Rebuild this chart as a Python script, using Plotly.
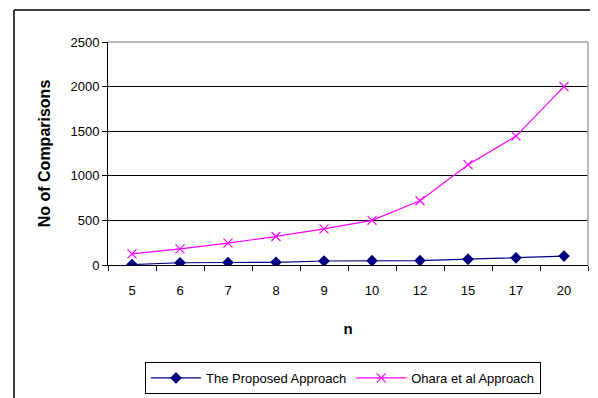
import plotly.graph_objects as go

categories = ["5", "6", "7", "8", "9", "10", "12", "15", "17", "20"]
proposed = [5, 25, 28, 30, 45, 48, 50, 65, 80, 100]
ohara = [125, 180, 245, 320, 405, 500, 720, 1125, 1445, 2000]
y_ticks = [0, 500, 1000, 1500, 2000, 2500]

W, H = 598, 398
OFF = 8  # page body margin offset
L, T = 108 - OFF, 42 - OFF
pw, ph = 480, 223
R = W - L - pw
B = H - T - ph

def px_x(x):
    return (x - OFF - L) / pw

def px_y(y):
    return (T + ph - (y - OFF)) / ph

fig = go.Figure()
fig.add_trace(go.Scatter(
    x=categories, y=proposed, name="The Proposed Approach",
    mode="lines+markers",
    line=dict(color="#000080", width=1.2),
    marker=dict(symbol="diamond", size=9, color="#000080"),
))
fig.add_trace(go.Scatter(
    x=categories, y=ohara, name="Ohara et al Approach",
    mode="lines+markers",
    line=dict(color="#FF00FF", width=1.2),
    marker=dict(symbol="x-thin", size=9, color="#FF00FF",
                line=dict(color="#FF00FF", width=1.2)),
))

font = "Liberation Sans, Arial, sans-serif"

fig.update_layout(
    width=W, height=H,
    margin=dict(l=L, r=R, t=T, b=B, autoexpand=False),
    paper_bgcolor="white",
    plot_bgcolor="white",
    font=dict(family=font, size=13, color="black"),
    showlegend=True,
    legend=dict(
        orientation="h",
        x=px_x(343), y=px_y(378), xanchor="center", yanchor="middle",
        bordercolor="black", borderwidth=1, bgcolor="white",
        font=dict(size=13, family=font),
        itemwidth=50,
        tracegroupgap=0,
    ),
    xaxis=dict(
        type="category",
        showgrid=False,
        showline=True, linecolor="black", linewidth=1,
        ticks="outside", ticklen=5, tickcolor="black", tickson="boundaries",
        ticklabelstandoff=13,
        tickfont=dict(size=13),
        title=dict(text="<b>n</b>", font=dict(size=15), standoff=26),
        range=[-0.5, 9.5],
    ),
    yaxis=dict(
        range=[0, 2500],
        tickvals=y_ticks,
        showgrid=True, gridcolor="black", gridwidth=1,
        showline=True, linecolor="black", linewidth=1,
        ticks="outside", ticklen=5, tickcolor="black",
        tickfont=dict(size=13),
        title=dict(text="<b>No of Comparisons</b>", font=dict(size=16), standoff=15),
        zeroline=False,
    ),
    shapes=[
        dict(type="line", xref="paper", yref="paper", x0=0, x1=1, y0=1, y1=1,
             line=dict(color="#a0a0a0", width=1.5), layer="above"),
        dict(type="line", xref="paper", yref="paper", x0=1, x1=1, y0=0, y1=1,
             line=dict(color="#a0a0a0", width=1.5), layer="above"),
        dict(type="line", xref="paper", yref="paper",
             x0=px_x(14), x1=px_x(W + 20), y0=px_y(10), y1=px_y(10),
             line=dict(color="black", width=1.5)),
        dict(type="line", xref="paper", yref="paper",
             x0=px_x(14), x1=px_x(14), y0=px_y(10), y1=px_y(H + 20),
             line=dict(color="black", width=1.5)),
    ],
)

fig.write_html("out.html")
